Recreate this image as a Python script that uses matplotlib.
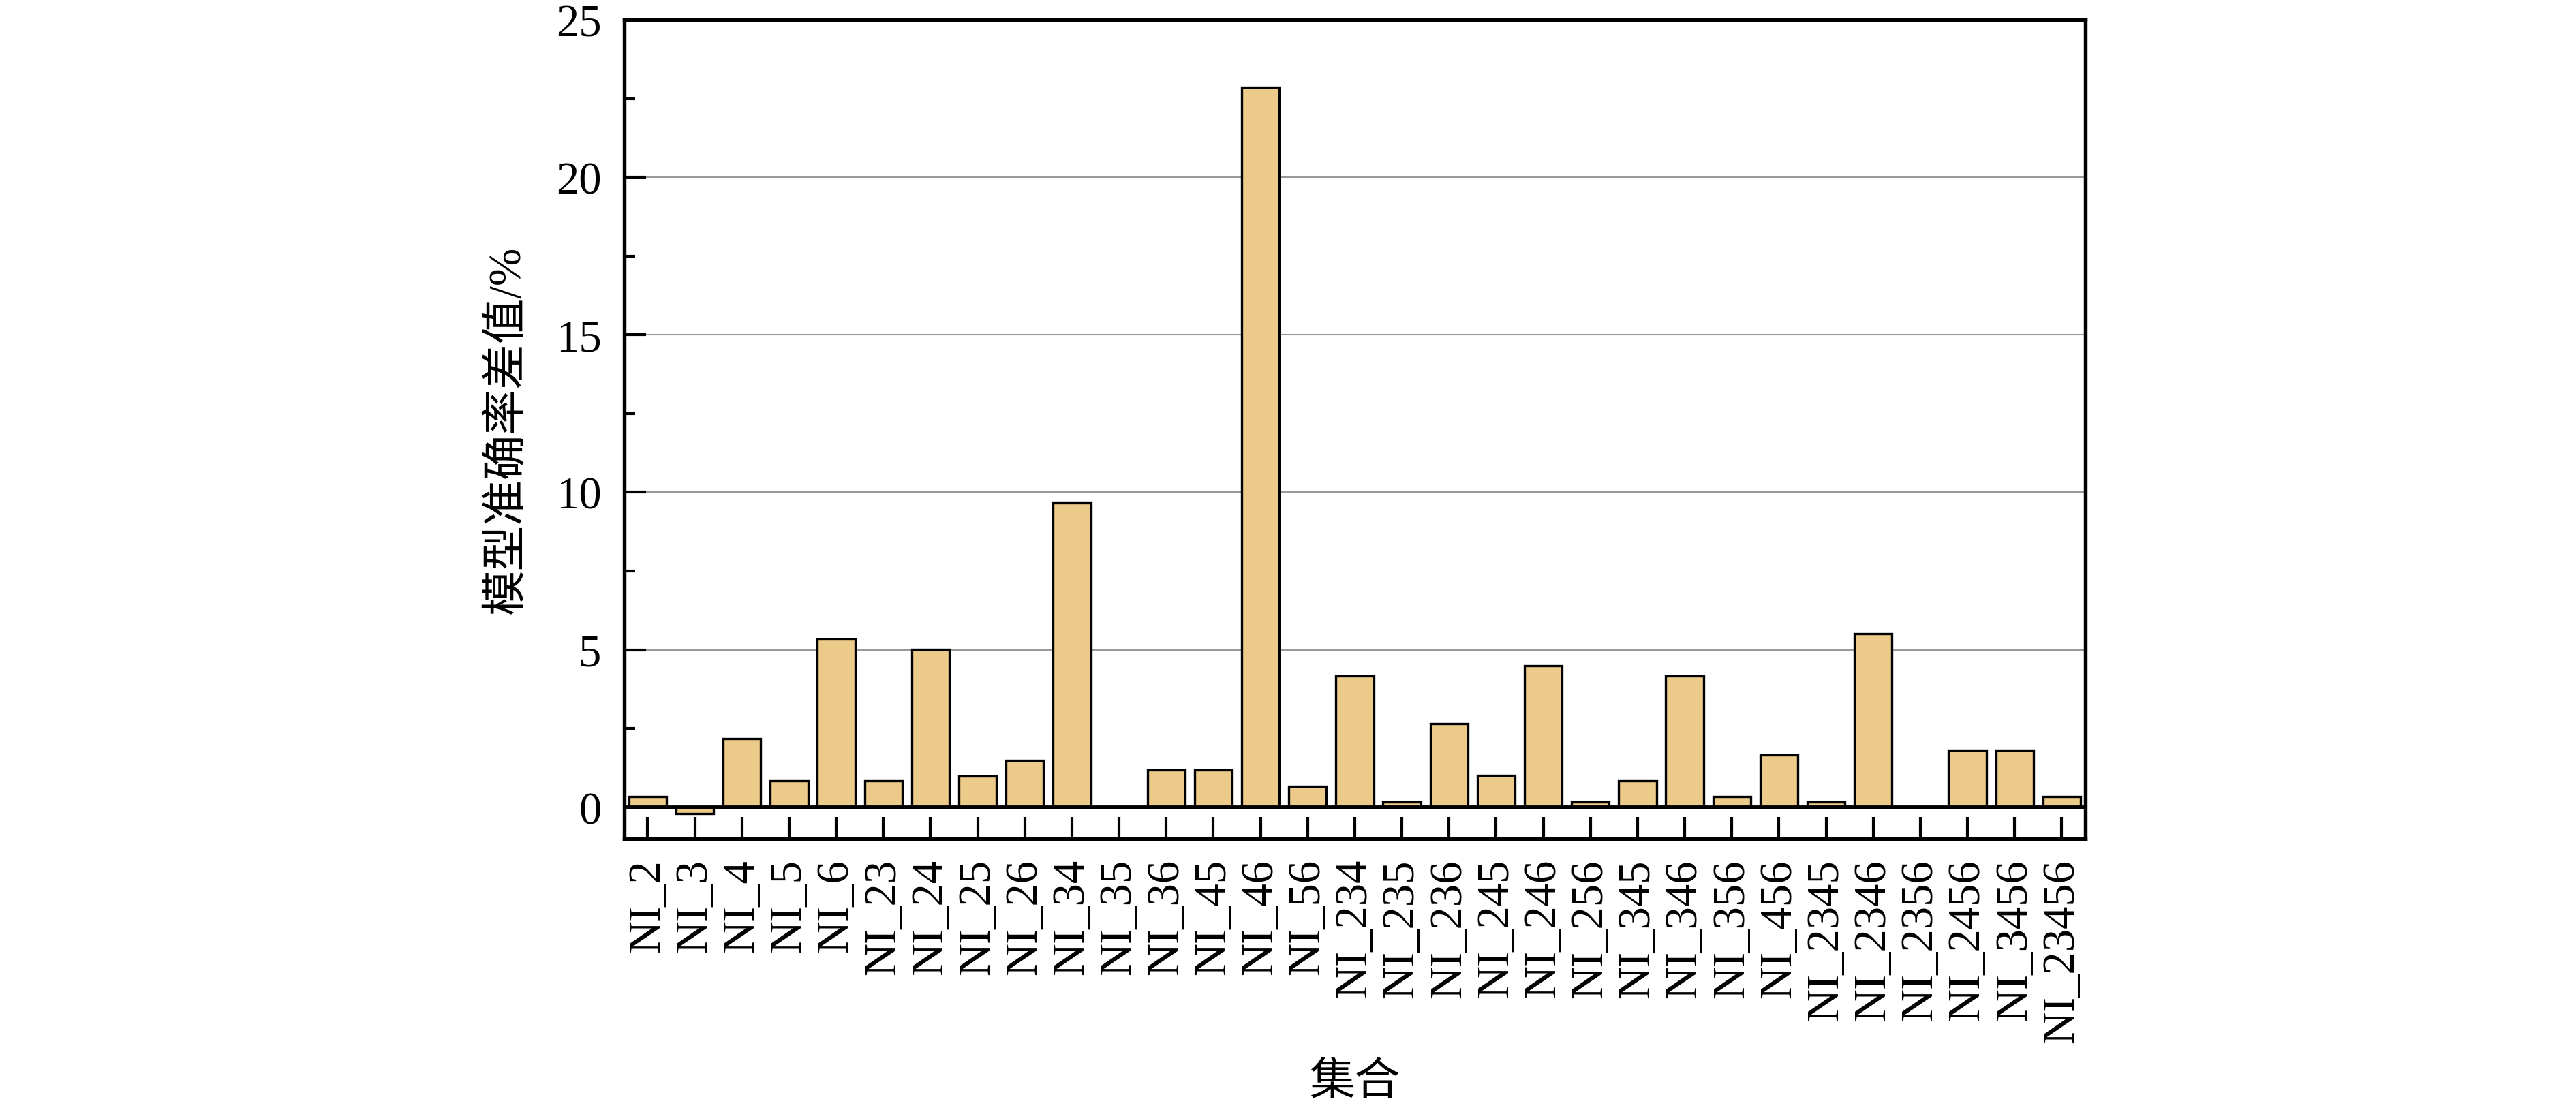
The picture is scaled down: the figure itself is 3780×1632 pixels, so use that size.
import matplotlib
matplotlib.use("Agg")
import matplotlib.pyplot as plt
from matplotlib.ticker import MultipleLocator

categories = ["NI_2", "NI_3", "NI_4", "NI_5", "NI_6", "NI_23", "NI_24", "NI_25", "NI_26",
              "NI_34", "NI_35", "NI_36", "NI_45", "NI_46", "NI_56", "NI_234", "NI_235",
              "NI_236", "NI_245", "NI_246", "NI_256", "NI_345", "NI_346", "NI_356",
              "NI_456", "NI_2345", "NI_2346", "NI_2356", "NI_2456", "NI_3456", "NI_23456"]
values = [0.35, -0.2, 2.18, 0.83, 5.33, 0.84, 5.01, 0.99, 1.48,
          9.66, 0.0, 1.18, 1.18, 22.86, 0.67, 4.17, 0.17,
          2.66, 1.0, 4.5, 0.17, 0.83, 4.17, 0.34,
          1.66, 0.17, 5.5, 0.0, 1.82, 1.82, 0.33]
yticks = [0, 5, 10, 15, 20, 25]
ylabel = "模型准确率差值/%"
xlabel = "集合"

serif = ["Liberation Serif", "Noto Sans CJK SC", "DejaVu Sans"]
plt.rcParams['font.family'] = serif

bg = "white"
fig = plt.figure(figsize=(12.6, 5.443), dpi=300, facecolor=bg)
ax = fig.add_axes([0.2423, 0.2456, 0.5672, 0.7361], facecolor=bg)

x = list(range(len(categories)))
ax.bar(x, values, width=0.8, color="#ECCB8A", edgecolor="black", linewidth=0.8, zorder=3)
ax.axhline(0, color="black", linewidth=1.4, zorder=4)

ax.set_xlim(-0.5, len(categories) - 0.5)
ax.set_ylim(-1, 25)
ax.set_yticks(yticks)
ax.yaxis.set_minor_locator(MultipleLocator(2.5))
ax.set_xticks(x)
ax.set_xticklabels(categories, rotation=90, fontsize=16)
ax.tick_params(axis="y", which="major", direction="in", length=7.7, width=1.0, pad=8, labelsize=16)
ax.tick_params(axis="y", which="minor", direction="in", length=3.8, width=1.0)
ax.tick_params(axis="x", which="major", direction="in", length=7.7, width=1.0, pad=7)

ax.grid(axis="y", which="major", color="#999999", linewidth=0.5, zorder=0)
ax.set_axisbelow(True)

for s in ax.spines.values():
    s.set_linewidth(1.3)
    s.set_color("black")

ax.text(-0.0798, 0.5, ylabel, transform=ax.transAxes, rotation=90,
        ha="center", va="center", fontsize=16, family=serif)
ax.text(0.5, -0.298, xlabel, transform=ax.transAxes,
        ha="center", va="center", fontsize=16, family=serif)

fig.savefig("out.png", dpi=300, facecolor=bg)
